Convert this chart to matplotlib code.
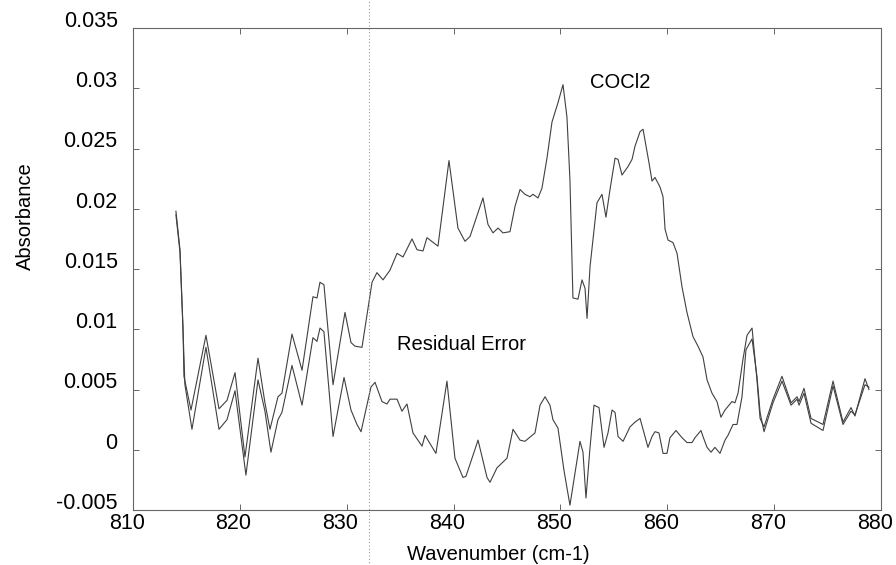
import matplotlib
matplotlib.use("Agg")
import matplotlib.pyplot as plt
from matplotlib.transforms import ScaledTranslation

# ---- data ----
wn_spec = [814.02, 814.40, 814.68, 814.77, 815.43, 816.83, 818.05, 818.80, 819.55, 820.48,
           821.70, 822.35, 822.82, 823.57, 823.94, 824.88, 825.82, 826.84, 827.22, 827.50,
           827.87, 828.72, 829.84, 830.40, 830.77, 831.43, 832.37, 832.83, 833.40, 834.05,
           834.71, 835.27, 836.11, 836.58, 837.14, 837.51, 838.54, 839.57, 840.41, 841.07,
           841.54, 842.75, 843.22, 843.69, 844.16, 844.62, 845.28, 845.75, 846.22, 846.68,
           847.15, 847.43, 847.90, 848.27, 848.74, 849.21, 849.77, 850.24, 850.61, 850.89,
           851.17, 851.64, 852.02, 852.30, 852.49, 852.77, 853.42, 853.89, 854.26, 854.64,
           855.11, 855.39, 855.76, 856.32, 856.70, 856.98, 857.45, 857.73, 858.29, 858.57,
           858.85, 859.32, 859.60, 859.79, 860.07, 860.53, 860.91, 861.38, 861.84, 862.40,
           862.87, 863.34, 863.72, 864.18, 864.65, 865.02, 865.40, 865.68, 866.05, 866.33,
           866.62, 867.08, 867.46, 867.93, 868.39, 868.68, 869.05, 869.89, 870.73, 871.58,
           872.14, 872.33, 872.79, 873.45, 874.57, 875.51, 876.44, 877.19, 877.56, 878.50,
           878.87]
abs_spec = [0.0198, 0.0166, 0.0102, 0.0061, 0.0033, 0.0095, 0.0034, 0.0041, 0.0064, -0.0006,
            0.0076, 0.0039, 0.0017, 0.0044, 0.0047, 0.0096, 0.0066, 0.0127, 0.0126, 0.0139,
            0.0137, 0.0054, 0.0114, 0.0089, 0.0086, 0.0085, 0.0139, 0.0147, 0.0141, 0.0149,
            0.0163, 0.0160, 0.0175, 0.0166, 0.0165, 0.0176, 0.0169, 0.0240, 0.0184, 0.0173,
            0.0177, 0.0209, 0.0187, 0.0180, 0.0184, 0.0180, 0.0181, 0.0202, 0.0216, 0.0212,
            0.0210, 0.0212, 0.0209, 0.0217, 0.0242, 0.0272, 0.0288, 0.0303, 0.0276, 0.0224,
            0.0126, 0.0125, 0.0141, 0.0134, 0.0109, 0.0152, 0.0205, 0.0212, 0.0193, 0.0216,
            0.0242, 0.0241, 0.0228, 0.0235, 0.0241, 0.0252, 0.0264, 0.0266, 0.0238, 0.0223,
            0.0226, 0.0218, 0.0210, 0.0183, 0.0174, 0.0172, 0.0163, 0.0135, 0.0114, 0.0094,
            0.0086, 0.0077, 0.0058, 0.0047, 0.0040, 0.0027, 0.0033, 0.0036, 0.0040, 0.0039,
            0.0047, 0.0075, 0.0095, 0.0101, 0.0058, 0.0026, 0.0019, 0.0042, 0.0061, 0.0039,
            0.0044, 0.0040, 0.0051, 0.0026, 0.0021, 0.0057, 0.0023, 0.0035, 0.0028, 0.0059,
            0.0050]

wn_resid = [814.02, 814.40, 814.68, 814.86, 815.52, 816.83, 818.05, 818.80, 819.55, 820.57,
            821.70, 822.35, 822.91, 823.57, 823.94, 824.88, 825.82, 826.84, 827.22, 827.50,
            827.87, 828.72, 829.75, 830.40, 830.96, 831.34, 832.27, 832.65, 833.30, 833.77,
            834.05, 834.71, 835.17, 835.64, 836.20, 837.05, 837.33, 838.35, 839.38, 840.13,
            840.88, 841.16, 842.29, 843.13, 843.41, 844.06, 845.00, 845.56, 846.22, 846.68,
            847.62, 848.09, 848.56, 849.02, 849.30, 849.77, 850.33, 850.89, 851.83, 852.11,
            852.39, 852.77, 853.14, 853.61, 854.08, 854.45, 854.83, 855.11, 855.39, 855.86,
            856.51, 856.98, 857.45, 857.82, 858.19, 858.57, 858.85, 859.22, 859.60, 859.97,
            860.25, 860.81, 861.38, 861.84, 862.31, 862.59, 863.15, 863.34, 863.72, 864.09,
            864.46, 864.93, 865.40, 865.68, 866.15, 866.52, 866.99, 867.36, 867.93, 868.39,
            868.68, 869.05, 869.89, 870.73, 871.58, 872.14, 872.33, 872.79, 873.45, 874.57,
            875.51, 876.44, 877.19, 877.56, 878.50, 878.87]
abs_resid = [0.0195, 0.0164, 0.0100, 0.0054, 0.0017, 0.0085, 0.0017, 0.0025, 0.0049, -0.0021,
             0.0058, 0.0032, -0.0002, 0.0025, 0.0031, 0.0070, 0.0037, 0.0093, 0.0090, 0.0101,
             0.0098, 0.0011, 0.0060, 0.0033, 0.0021, 0.0015, 0.0052, 0.0056, 0.0040, 0.0038,
             0.0042, 0.0042, 0.0032, 0.0038, 0.0014, 0.0003, 0.0012, -0.0003, 0.0057, -0.0007,
             -0.0023, -0.0022, 0.0008, -0.0023, -0.0027, -0.0015, -0.0007, 0.0017, 0.0008, 0.0007,
             0.0014, 0.0037, 0.0044, 0.0037, 0.0025, 0.0018, -0.0017, -0.0046, 0.0007, -0.0002,
             -0.0040, 0.0002, 0.0037, 0.0035, 0.0002, 0.0014, 0.0033, 0.0031, 0.0011, 0.0007,
             0.0019, 0.0023, 0.0026, 0.0014, 0.0002, 0.0011, 0.0015, 0.0014, -0.0003, -0.0003,
             0.0010, 0.0016, 0.0010, 0.0006, 0.0006, 0.0010, 0.0016, 0.0011, 0.0002, -0.0002,
             0.0002, -0.0003, 0.0008, 0.0012, 0.0021, 0.0021, 0.0044, 0.0083, 0.0092, 0.0061,
             0.0031, 0.0015, 0.0039, 0.0057, 0.0037, 0.0042, 0.0037, 0.0047, 0.0022, 0.0016,
             0.0053, 0.0021, 0.0032, 0.0029, 0.0054, 0.0052]

x_ticks = [810, 820, 830, 840, 850, 860, 870, 880]
y_ticks = [-0.005, 0, 0.005, 0.01, 0.015, 0.02, 0.025, 0.03, 0.035]
y_tick_labels = ["-0.005", "0", "0.005", "0.01", "0.015", "0.02", "0.025", "0.03", "0.035"]
marker_wn = 832.1

plt.rcParams['font.family'] = ['Liberation Sans', 'DejaVu Sans']

fig = plt.figure(figsize=(8.96, 5.65), dpi=100)
ax = fig.add_axes([0.1484, 0.0973, 0.8349, 0.8531])

line_color = '#404040'
ax.plot(wn_spec, abs_spec, color=line_color, lw=0.8)
ax.plot(wn_resid, abs_resid, color=line_color, lw=0.8)

ax.set_xlim(810, 880)
ax.set_ylim(-0.005, 0.035)
ax.set_xticks(x_ticks)
ax.set_xticklabels([str(v) for v in x_ticks])
ax.set_yticks(y_ticks)
ax.set_yticklabels(y_tick_labels)

for s in ax.spines.values():
    s.set_color('#666666')
    s.set_linewidth(0.8)

ax.tick_params(axis='both', which='both', direction='in', length=4, width=0.7,
               color='#666666', top=True, right=True, labelsize=15.5)
ax.tick_params(axis='y', pad=11)
ax.tick_params(axis='x', pad=2)

# shift tick labels like the original scan
dy = ScaledTranslation(0, 6.5 / 72, fig.dpi_scale_trans)
for lab in ax.get_yticklabels():
    lab.set_transform(lab.get_transform() + dy)
dx = ScaledTranslation(-4.5 / 72, 0, fig.dpi_scale_trans)
for lab in ax.get_xticklabels():
    lab.set_transform(lab.get_transform() + dx)

ax.set_xlabel("Wavenumber (cm-1)", fontsize=14.5)
ax.xaxis.set_label_coords(0.488, -0.072)
ax.set_ylabel("Absorbance", fontsize=14.5)
ax.yaxis.set_label_coords(-0.131, 0.61)

ax.text(852.8, 0.0305, "COCl2", fontsize=14.5, va='center', ha='left')
ax.text(834.7, 0.0087, "Residual Error", fontsize=14.5, va='center', ha='left')

ax.axvline(marker_wn, ymin=-0.12, ymax=1.07, clip_on=False, ls=(0, (1, 2)),
           color='#9a9a9a', lw=0.8)

fig.savefig("out.png", dpi=100)
